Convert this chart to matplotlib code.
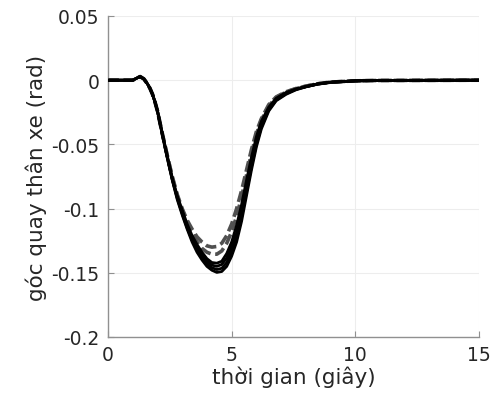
import matplotlib
matplotlib.use("Agg")
import matplotlib.pyplot as plt

t = [0, 1.0, 1.15, 1.3, 1.45, 1.6, 1.7, 1.8, 1.9, 2.0, 2.2, 2.4, 2.6, 2.8, 3.0, 3.2,
     3.4, 3.6, 3.8, 4.0, 4.2, 4.4, 4.6, 4.8, 5.0, 5.2, 5.4, 5.6, 5.8, 6.0, 6.2, 6.5,
     6.8, 7.2, 7.6, 8.0, 8.5, 9.0, 10, 11, 15]

start = [0, 0, 0.0015, 0.0028, 0.001, -0.003, -0.0065, -0.011, -0.017, -0.024]

black_1 = start + [-0.043, -0.061, -0.078, -0.093, -0.105, -0.116, -0.126, -0.134, -0.140,
                   -0.145, -0.148, -0.1497, -0.149, -0.145, -0.137, -0.126, -0.110, -0.090,
                   -0.070, -0.052, -0.038, -0.024, -0.016, -0.011, -0.0075, -0.0052, -0.003,
                   -0.0017, -0.0005, -0.0002, 0]
black_2 = start + [-0.0425, -0.0605, -0.0775, -0.092, -0.104, -0.115, -0.1245, -0.132, -0.138,
                   -0.143, -0.146, -0.1475, -0.1465, -0.142, -0.1335, -0.1225, -0.1065, -0.087,
                   -0.0675, -0.050, -0.0365, -0.023, -0.0155, -0.0105, -0.0072, -0.0051,
                   -0.0029, -0.0016, -0.0005, -0.0002, 0]
black_3 = start + [-0.042, -0.060, -0.077, -0.091, -0.103, -0.114, -0.123, -0.130, -0.136,
                   -0.141, -0.144, -0.145, -0.1435, -0.1385, -0.130, -0.119, -0.103, -0.084,
                   -0.065, -0.048, -0.035, -0.022, -0.015, -0.010, -0.007, -0.005, -0.0029,
                   -0.0016, -0.0005, -0.0002, 0]
black_4 = start + [-0.042, -0.059, -0.076, -0.090, -0.101, -0.112, -0.121, -0.128, -0.134,
                   -0.139, -0.142, -0.1425, -0.141, -0.135, -0.126, -0.113, -0.097, -0.078,
                   -0.060, -0.044, -0.032, -0.021, -0.014, -0.0095, -0.0068, -0.0048, -0.0028,
                   -0.0015, -0.0005, -0.0002, 0]
gray_1 = start + [-0.042, -0.059, -0.076, -0.090, -0.101, -0.111, -0.119, -0.126, -0.131,
                  -0.134, -0.1355, -0.1355, -0.133, -0.127, -0.118, -0.106, -0.091, -0.074,
                  -0.057, -0.042, -0.031, -0.020, -0.0135, -0.0092, -0.0066, -0.0047, -0.0027,
                  -0.0015, -0.0005, -0.0002, 0]
gray_2 = start + [-0.042, -0.059, -0.075, -0.089, -0.100, -0.109, -0.116, -0.122, -0.126,
                  -0.129, -0.130, -0.1295, -0.127, -0.121, -0.112, -0.100, -0.086, -0.070,
                  -0.054, -0.040, -0.030, -0.019, -0.013, -0.009, -0.0065, -0.0046, -0.0027,
                  -0.0015, -0.0005, -0.0002, 0]

xticks = [0, 5, 10, 15]
xticklabels = ["0", "5", "10", "15"]
yticks = [-0.2, -0.15, -0.1, -0.05, 0, 0.05]
yticklabels = ["-0.2", "-0.15", "-0.1", "-0.05", "0", "0.05"]

plt.rcParams['font.family'] = ['DejaVu Sans']

fig = plt.figure(figsize=(4.93, 4.14), dpi=100)
ax = fig.add_axes([108 / 493, 1 - 338 / 414, (479 - 108) / 493, (338 - 17) / 414])

for s in (gray_1, gray_2):
    ax.plot(t, s, color='#505050', lw=2.6, ls=(0, (3, 1.3)), zorder=2)
for s in (black_1, black_2, black_3, black_4):
    ax.plot(t, s, color='black', lw=2.0, zorder=3, solid_joinstyle='round')

ax.set_xlim(0, 15)
ax.set_ylim(-0.2, 0.05)
ax.set_xticks(xticks)
ax.set_xticklabels(xticklabels)
ax.set_yticks(yticks)
ax.set_yticklabels(yticklabels)
ax.grid(True, color='#ededed', lw=0.8)
ax.set_axisbelow(True)
for side in ('top', 'right'):
    ax.spines[side].set_visible(False)
for side in ('left', 'bottom'):
    ax.spines[side].set_color('#909090')
    ax.spines[side].set_linewidth(1.0)
ax.tick_params(direction='in', length=4, color='#909090', labelsize=13.5,
               labelcolor='#262626', pad=6)
ax.set_xlabel('thời gian (giây)', fontsize=15.5, color='#262626', labelpad=1)
ax.set_ylabel('góc quay thân xe (rad)', fontsize=15.5, color='#262626', labelpad=3)

fig.savefig('out.png', dpi=100)
